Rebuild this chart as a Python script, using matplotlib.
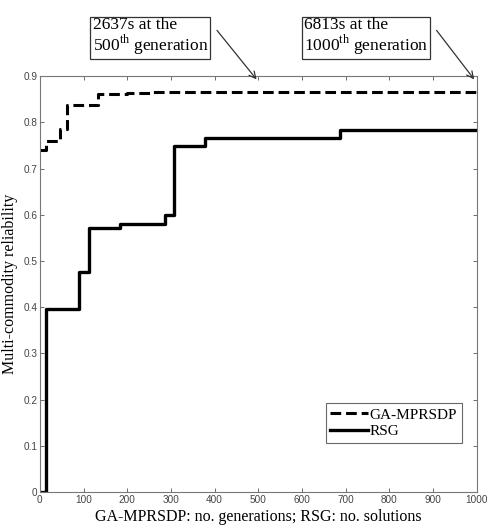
import matplotlib
matplotlib.use("Agg")
import matplotlib.pyplot as plt

plt.rcParams["mathtext.fontset"] = "custom"
plt.rcParams["mathtext.rm"] = "Liberation Serif"

# GA-MPRSDP (dashed) step data
ga_x = [0, 13, 46, 63, 133, 199, 252, 1000]
ga_y = [0.74, 0.76, 0.785, 0.838, 0.862, 0.864, 0.866, 0.866]

# RSG (solid) step data
rsg_x = [0, 13, 89, 112, 183, 286, 307, 377, 688, 1000]
rsg_y = [0.0, 0.396, 0.477, 0.571, 0.579, 0.600, 0.749, 0.766, 0.784, 0.784]

x_ticks = [0, 100, 200, 300, 400, 500, 600, 700, 800, 900, 1000]
y_ticks = [0, 0.1, 0.2, 0.3, 0.4, 0.5, 0.6, 0.7, 0.8, 0.9]
y_ticklabels = ["0", "0.1", "0.2", "0.3", "0.4", "0.5", "0.6", "0.7", "0.8", "0.9"]

serif = ["Liberation Serif", "DejaVu Serif"]
sans = ["Liberation Sans", "DejaVu Sans"]

fig = plt.figure(figsize=(4.87, 5.32), dpi=100)
ax = fig.add_axes([0.082, 0.075, 0.897, 0.782])

ax.step(ga_x, ga_y, where="post", color="black", lw=2.2, ls=(0, (3.5, 1.6)), label="GA-MPRSDP")
ax.step(rsg_x, rsg_y, where="post", color="black", lw=2.4, ls="-", label="RSG")

ax.set_xlim(0, 1000)
ax.set_ylim(0, 0.9)
ax.set_xticks(x_ticks)
ax.set_xticklabels([str(v) for v in x_ticks], fontsize=7.2, family=sans)
ax.set_yticks(y_ticks)
ax.set_yticklabels(y_ticklabels, fontsize=7.2, family=sans)
ax.tick_params(direction="in", top=True, right=True, length=3, width=0.6, colors="#555555", pad=2)
for lab in ax.get_xticklabels() + ax.get_yticklabels():
    lab.set_color("#444444")
for s in ax.spines.values():
    s.set_color("#777777")
    s.set_linewidth(0.8)

ax.set_xlabel("GA-MPRSDP: no. generations; RSG: no. solutions", family=serif, fontsize=11.5, labelpad=3)
ax.set_ylabel("Multi-commodity reliability", family=serif, fontsize=11.5, labelpad=4)

leg = ax.legend(loc="lower right", bbox_to_anchor=(0.966, 0.118), prop={"family": serif, "size": 11},
                frameon=True, fancybox=False, edgecolor="#444444", handlelength=2.5, handletextpad=0.1,
                borderpad=0.3, labelspacing=0.2, borderaxespad=0)
leg.get_frame().set_linewidth(0.8)

bbox = dict(boxstyle="square,pad=0.12", fc="white", ec="#333333", lw=0.9)
ax.annotate("2637s at the\n500$^{\\mathrm{th}}$ generation", xy=(500, 0.888), xycoords="data",
            xytext=(0.19, 0.931), textcoords="figure fraction", family=serif, fontsize=12.5,
            ha="left", va="center", bbox=bbox, linespacing=0.95)
ax.annotate("", xy=(500, 0.888), xycoords="data", xytext=(0.442, 0.947), textcoords="figure fraction",
            arrowprops=dict(arrowstyle="->", color="#333333", lw=0.9, mutation_scale=12))
ax.annotate("6813s at the\n1000$^{\\mathrm{th}}$ generation", xy=(1000, 0.888), xycoords="data",
            xytext=(0.624, 0.931), textcoords="figure fraction", family=serif, fontsize=12.5,
            ha="left", va="center", bbox=bbox, linespacing=0.95)
ax.annotate("", xy=(998, 0.888), xycoords="data", xytext=(0.893, 0.947), textcoords="figure fraction",
            arrowprops=dict(arrowstyle="->", color="#333333", lw=0.9, mutation_scale=12))

fig.savefig("out.png", dpi=100, facecolor="white")
